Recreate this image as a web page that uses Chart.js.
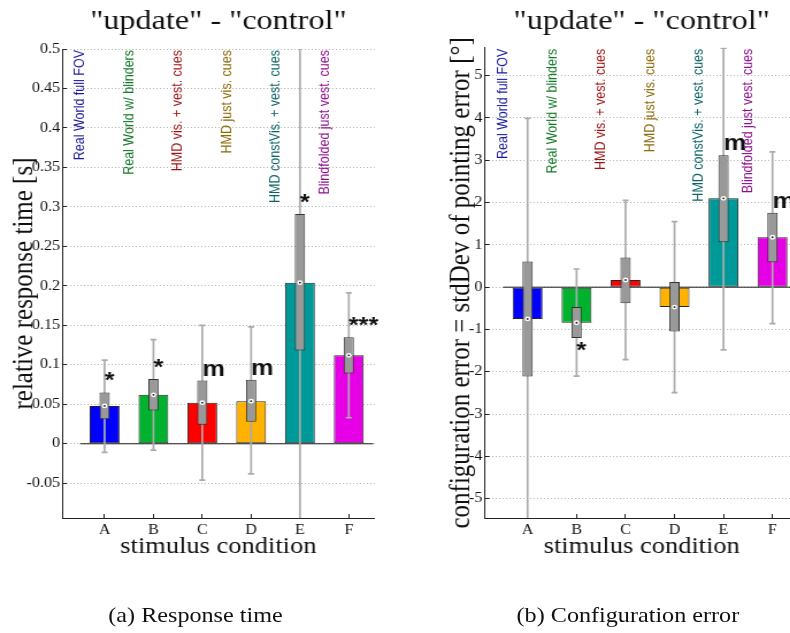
<!DOCTYPE html>
<html>
<head>
<meta charset="utf-8">
<script src="https://cdn.jsdelivr.net/npm/chart.js@4/dist/chart.umd.min.js"></script>
<style>
  html, body { margin: 0; padding: 0; background: #fff; overflow: hidden; }
  body { width: 790px; height: 633px; position: relative; }
  /* the whole figure is laid out at 1/1.15 width and stretched back horizontally */
  #stage { position: absolute; left: 0; top: 0; width: 700px; height: 633px; transform: scaleX(1.15); transform-origin: 0 0; }
  .panel { position: absolute; top: 0; }
  #panelA { left: 0; }
  #panelB { left: 344px; }
  .cap { position: absolute; top: 603px; line-height: 24px; font: 21px "Liberation Serif", "Times New Roman", serif; color: #111; white-space: nowrap; transform: translateX(-50%); }
</style>
</head>
<body>
<div id="stage">
  <div class="panel" id="panelA"><canvas id="chartA" width="344" height="575"></canvas></div>
  <div class="panel" id="panelB"><canvas id="chartB" width="356" height="575"></canvas></div>
  <div class="cap" style="left:170px">(a) Response time</div>
  <div class="cap" style="left:546px">(b) Configuration error</div>
</div>
<script>
// stimulus conditions
const categories = ['A', 'B', 'C', 'D', 'E', 'F'];
const conditionNames = ['Real World full FOV', 'Real World w/ blinders', 'HMD vis. + vest. cues',
                        'HMD just vis. cues', 'HMD constVis. + vest. cues', 'Blindfolded just vest. cues'];
const barColors = ['#0000ff', '#00b22e', '#ff0000', '#ffb300', '#009999', '#e600e6'];
const nameColors = ['#1a1a9e', '#137a26', '#9e1010', '#8c6a06', '#0d6363', '#8f118f'];

// (a) relative response time [s]
const rtMean      = [0.048, 0.062, 0.052, 0.054, 0.204, 0.112];
const rtBoxLow    = [0.031, 0.042, 0.024, 0.028, 0.118, 0.089];
const rtBoxHigh   = [0.065, 0.082, 0.080, 0.081, 0.291, 0.135];
const rtWhiskLow  = [-0.011, -0.008, -0.046, -0.038, -0.125, 0.033];
const rtWhiskHigh = [0.106, 0.132, 0.150, 0.148, 0.535, 0.191];
const rtSig       = ['*', '*', 'm', 'm', '*', '***'];
const rtTicks     = [-0.05, 0, 0.05, 0.1, 0.15, 0.2, 0.25, 0.3, 0.35, 0.4, 0.45, 0.5];

// (b) configuration error [deg]
const ceMean      = [-0.75, -0.84, 0.17, -0.47, 2.10, 1.18];
const ceBoxLow    = [-2.11, -1.20, -0.38, -1.05, 1.06, 0.59];
const ceBoxHigh   = [0.61, -0.47, 0.70, 0.12, 3.12, 1.76];
const ceWhiskLow  = [-5.50, -2.10, -1.71, -2.49, -1.48, -0.86];
const ceWhiskHigh = [3.99, 0.43, 2.05, 1.55, 5.65, 3.20];
const ceSig       = ['', '*', '', '', 'm', 'm'];
const ceTicks     = [-5, -4, -3, -2, -1, 0, 1, 2, 3, 4, 5];

Chart.defaults.font.family = '"Liberation Serif", "Times New Roman", serif';
Chart.defaults.color = '#111';

function makePanel(canvasId, d) {
    const xs = categories.map((c, i) => i + 1);
    const pts = arr => arr.map((v, i) => ({ x: xs[i], y: v }));
    const ranges = (lo, hi) => lo.map((v, i) => ({ x: xs[i], y: [v, hi[i]] }));

    // condition names along the top and the significance marks
    const annotate = {
        id: 'annotate',
        afterDatasetsDraw(chart) {
            const { ctx, chartArea, scales: { x, y } } = chart;
            ctx.save();
            ctx.font = '12.5px "Liberation Sans", Arial, sans-serif';
            ctx.textAlign = 'right';
            ctx.textBaseline = 'middle';
            conditionNames.forEach((name, i) => {
                ctx.save();
                ctx.translate(x.getPixelForValue(xs[i] - 0.5), chartArea.top + 1);
                ctx.rotate(-Math.PI / 2);
                ctx.fillStyle = nameColors[i];
                ctx.fillText(name, 0, 0);
                ctx.restore();
            });

            ctx.font = 'bold 22px "Liberation Sans", Arial, sans-serif';
            ctx.fillStyle = '#111';
            ctx.textAlign = 'left';
            d.sig.forEach((s, i) => {
                if (!s) return;
                const px = x.getPixelForValue(xs[i]);
                if (d.mean[i] < 0) {
                    ctx.textBaseline = 'top';
                    ctx.fillText(s, px, y.getPixelForValue(d.boxLow[i]) + 2);
                } else {
                    ctx.textBaseline = 'alphabetic';
                    ctx.fillText(s, px, y.getPixelForValue(d.boxHigh[i]) - 5);
                }
            });
            ctx.restore();
        }
    };

    return new Chart(document.getElementById(canvasId), {
        type: 'bar',
        data: {
            datasets: [
                // bar baseline at zero
                { type: 'line', data: [{ x: 0.5, y: 0 }, { x: categories.length + 0.5, y: 0 }],
                  borderColor: '#1a1a1a', borderWidth: 1, pointRadius: 0, order: 6, clip: 0 },
                // condition means
                { data: pts(d.mean), backgroundColor: barColors, borderColor: '#262626', borderWidth: 1,
                  borderSkipped: false, barPercentage: 0.61, order: 5, clip: 0 },
                // whiskers
                { data: ranges(d.whiskLow, d.whiskHigh), backgroundColor: '#ababab', borderWidth: 0,
                  barPercentage: 0.04, order: 4, clip: 0 },
                { type: 'line', showLine: false, data: pts(d.whiskLow).concat(pts(d.whiskHigh)),
                  pointStyle: 'line', pointRadius: 2.6, pointBorderWidth: 1.7, pointBorderColor: '#ababab',
                  order: 3, clip: 0 },
                // boxes
                { data: ranges(d.boxLow, d.boxHigh), backgroundColor: '#999999', borderColor: '#333333',
                  borderWidth: 1, borderSkipped: false, barPercentage: 0.21, order: 2, clip: 0 },
                // mean markers
                { type: 'line', showLine: false, data: pts(d.mean), pointStyle: 'circle', pointRadius: 2.4,
                  pointBackgroundColor: '#ffffff', pointBorderWidth: 0, order: 1, clip: 0 },
                { type: 'line', showLine: false, data: pts(d.mean), pointStyle: 'circle', pointRadius: 0.9,
                  pointBackgroundColor: '#111111', pointBorderWidth: 0, order: 0, clip: 0 }
            ]
        },
        options: {
            responsive: false,
            animation: false,
            events: [],
            datasets: { bar: { grouped: false, categoryPercentage: 1 } },
            layout: { padding: { left: 0, right: d.padRight, top: 0, bottom: 0 } },
            plugins: {
                legend: { display: false },
                tooltip: { enabled: false },
                title: {
                    display: true,
                    text: '"update" - "control"',
                    fullSize: false,
                    color: '#111',
                    font: { size: 28, weight: 'normal' },
                    padding: { top: 4.9, bottom: d.titleGap }
                }
            },
            scales: {
                x: {
                    type: 'linear', min: 0.13, max: 6.53, offset: false,
                    afterBuildTicks: s => { s.ticks = xs.map(v => ({ value: v })); },
                    afterFit: s => { s.height = 57; },
                    grid: { drawOnChartArea: false, drawTicks: true, tickLength: -4, tickColor: '#222', offset: false },
                    border: { color: '#222', width: 1 },
                    ticks: { autoSkip: false, maxRotation: 0, padding: 7.5, font: { size: 14 },
                             callback: v => categories[v - 1] },
                    title: { display: true, text: 'stimulus condition', font: { size: 23 },
                             padding: { top: 0, bottom: 14.5 } }
                },
                y: {
                    min: d.yMin, max: d.yMax,
                    afterBuildTicks: s => { s.ticks = d.ticks.map(v => ({ value: v })); },
                    afterFit: s => { s.width = d.yAxisWidth; },
                    grid: { color: '#b3b3b3', drawTicks: true, tickLength: -4, tickColor: '#222' },
                    border: { color: '#222', width: 1, dash: [1, 2] },
                    ticks: { padding: d.tickPad, font: { size: 14 }, callback: v => String(+v.toFixed(2)) },
                    title: { display: true, text: d.yTitle, font: { size: 25 },
                             padding: { top: d.titlePad, bottom: 0 } }
                }
            }
        },
        plugins: [annotate]
    });
}

makePanel('chartA', {
    mean: rtMean, boxLow: rtBoxLow, boxHigh: rtBoxHigh, whiskLow: rtWhiskLow, whiskHigh: rtWhiskHigh,
    sig: rtSig, ticks: rtTicks, yMin: -0.094, yMax: 0.5,
    yTitle: 'relative response time [s]',
    padRight: 18.2, titleGap: 10.5, yAxisWidth: 54, tickPad: 5.8, titlePad: 6.7
});

makePanel('chartB', {
    mean: ceMean, boxLow: ceBoxLow, boxHigh: ceBoxHigh, whiskLow: ceWhiskLow, whiskHigh: ceWhiskHigh,
    sig: ceSig, ticks: ceTicks, yMin: -5.455, yMax: 5.66,
    yTitle: 'configuration error = stdDev of pointing error [°]',
    padRight: 4.1, titleGap: 9.2, yAxisWidth: 77.7, tickPad: 6.3, titlePad: 42.7
});
</script>
</body>
</html>
